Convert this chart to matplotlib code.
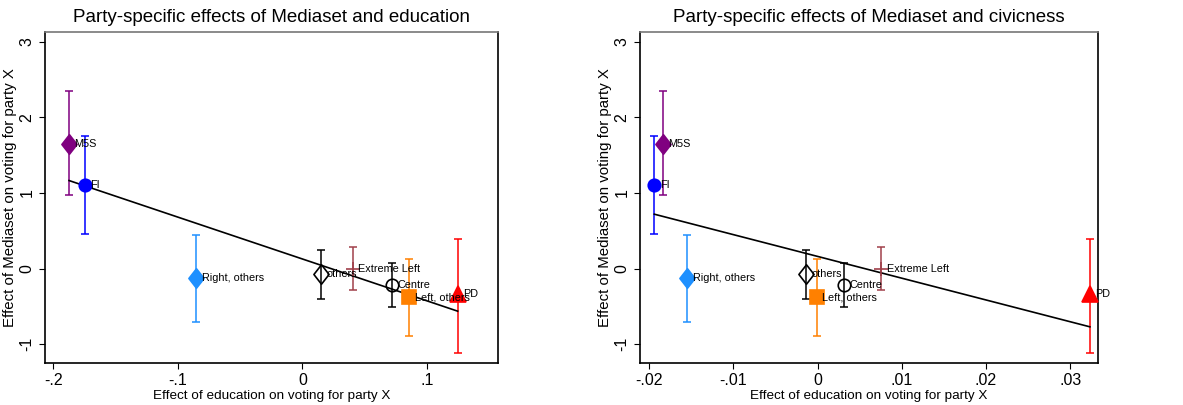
import numpy as np
import matplotlib.pyplot as plt
from matplotlib.path import Path

plt.rcParams['font.family'] = ['Liberation Sans', 'DejaVu Sans']

# Partidos e efeitos estimados
partidos = ['M5S', 'FI', 'Right, others', 'others', 'Extreme Left', 'Centre', 'Left, others', 'PD']
efeito_mediaset = [1.65, 1.105, -0.12, -0.075, 0.0, -0.21, -0.38, -0.34]
ic_sup = [2.35, 1.757, 0.45, 0.25, 0.28, 0.075, 0.13, 0.39]
ic_inf = [0.97, 0.455, -0.70, -0.40, -0.28, -0.51, -0.89, -1.12]
efeito_educacao = [-0.1874, -0.1746, -0.0855, 0.0148, 0.0402, 0.0722, 0.0857, 0.1246]
efeito_civismo = [-0.0184, -0.0194, -0.0155, -0.00138, 0.00755, 0.00318, -0.0001, 0.03234]

# losango estilo Stata (mais alto que largo)
losango = Path([(0, 1), (0.78, 0), (0, -1), (-0.78, 0), (0, 1)],
               [Path.MOVETO, Path.LINETO, Path.LINETO, Path.LINETO, Path.CLOSEPOLY])

cores = ['#800080', '#0000ff', '#1e90ff', '#000000', '#a0404a', '#000000', '#ff8000', '#ff0000']
marcadores = [losango, 'o', losango, losango, '+', 'o', 's', '^']
cheio = [True, True, True, False, True, False, True, True]
tamanhos = [14, 9, 14, 14, 10, 9, 9.5, 11]


def painel(ax, xs, titulo, xlim, xticks, xticklabels):
    for i, p in enumerate(partidos):
        ax.errorbar(xs[i], efeito_mediaset[i],
                    yerr=[[efeito_mediaset[i] - ic_inf[i]], [ic_sup[i] - efeito_mediaset[i]]],
                    fmt='none', ecolor=cores[i], elinewidth=1.1, capsize=3, capthick=1.1, zorder=2)
        ax.plot(xs[i], efeito_mediaset[i], marker=marcadores[i], ms=tamanhos[i],
                color=cores[i], mfc=cores[i] if cheio[i] else 'none',
                mec=cores[i], mew=1.2, linestyle='none', zorder=3)
        ax.annotate(p, (xs[i], efeito_mediaset[i]), xytext=(4, 0), textcoords='offset points',
                    va='center', ha='left', fontsize=7.8, zorder=4)
    # reta de ajuste linear
    a, b = np.polyfit(xs, efeito_mediaset, 1)
    xx = np.array([min(xs), max(xs)])
    ax.plot(xx, a * xx + b, color='black', lw=1.2, zorder=2.5)

    ax.set_xlim(xlim)
    ax.set_ylim(-1.247, 3.128)
    ax.set_yticks([-1, 0, 1, 2, 3])
    ax.set_yticklabels(['-1', '0', '1', '2', '3'], rotation=90, va='center')
    ax.set_xticks(xticks)
    ax.set_xticklabels(xticklabels)
    ax.tick_params(labelsize=11.5, length=4)
    ax.set_xlabel('Effect of education on voting for party X', fontsize=9.7, labelpad=1)
    ax.set_ylabel('Effect of Mediaset on voting for party X', fontsize=10.8, labelpad=2)
    ax.set_title(titulo, fontsize=13.5, pad=7)
    for s in ax.spines.values():
        s.set_linewidth(1.2)
    ax.spines['top'].set_color('#777777')


fig = plt.figure(figsize=(11.83, 4.05), dpi=100)
ax1 = fig.add_axes([45 / 1183, 42 / 405, 453 / 1183, 331 / 405])
ax2 = fig.add_axes([640 / 1183, 42 / 405, 458 / 1183, 331 / 405])

painel(ax1, efeito_educacao, 'Party-specific effects of Mediaset and education',
       (-0.2067, 0.157), [-0.2, -0.1, 0, 0.1], ['-.2', '-.1', '0', '.1'])
painel(ax2, efeito_civismo, 'Party-specific effects of Mediaset and civicness',
       (-0.0211, 0.0333), [-0.02, -0.01, 0, 0.01, 0.02, 0.03],
       ['-.02', '-.01', '0', '.01', '.02', '.03'])

fig.savefig('out.png', dpi=100)
